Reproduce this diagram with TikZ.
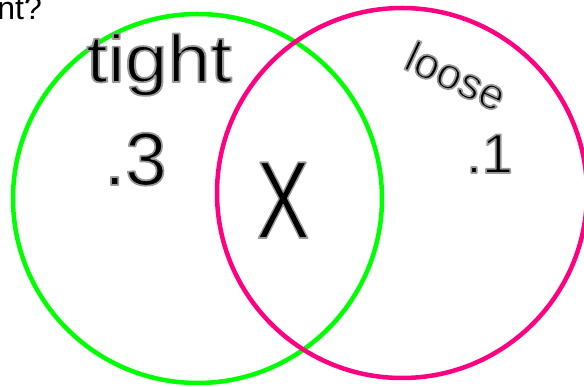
\documentclass[tikz,border=0pt]{standalone}
\usepackage{fontspec}
\setmainfont{Liberation Sans}
\usetikzlibrary{positioning}

\definecolor{setgreen}{RGB}{0,255,0}
\definecolor{setpink}{RGB}{255,0,128}

\tikzset{
  setring/.style={line width=4.5pt, draw=#1},
  scrawl/.style={inner sep=0pt, text=black, font=\fontsize{#1}{#1}\selectfont}
}
% black letters with a grey rim, as the pen leaves them
\newcommand{\scribble}[1]{\special{pdf:literal direct 2 Tr 1.7 w 1 j 0.6 G}#1\special{pdf:literal direct 0 Tr}}

\begin{document}
\begin{tikzpicture}[x=1pt,y=-1pt]
\useasboundingbox (0,0) rectangle (584,387);
% the two sets
\draw[setring=setgreen] (197.5,198.5) circle (184.5);
\draw[setring=setpink] (402,193) circle (185);
% question cut off at the top
\node[scrawl=32, anchor=base east] (ques) at (42,20) {nt?};
% labels written in the sets
\node[scrawl=67, anchor=base west, xscale=1.15] (tight) at (86,82) {\scribble{tight}};
\node[scrawl=75, anchor=base west] (ptight) at (104,185) {\scribble{.3}};
\node[scrawl=110, anchor=base, xscale=0.72] (both) at (283,238) {\scribble{X}};
\node[scrawl=44, rotate=-25] (loose) at (456,76) {\scribble{loose}};
\node[scrawl=56, anchor=base west] (ploose) at (466,173) {\scribble{.1}};
\end{tikzpicture}
\end{document}
